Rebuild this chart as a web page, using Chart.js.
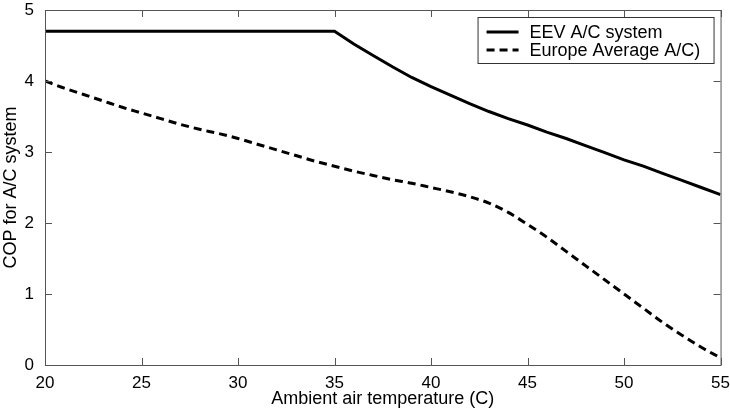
<!DOCTYPE html>
<html>
<head>
<meta charset="utf-8">
<script src="https://cdn.jsdelivr.net/npm/chart.js@4/dist/chart.umd.min.js"></script>
<style>
  html, body { margin: 0; padding: 0; background: #fff; }
  #wrap { width: 730px; height: 415px; }
</style>
</head>
<body>
<div id="wrap"><canvas id="myChart" width="730" height="415"></canvas></div>
<script>
// ambient temperature (C)
var temps = [20,21,22,23,24,25,26,27,28,29,30,31,32,33,34,35,36,37,38,39,40,
             41,42,43,44,45,46,47,48,49,50,51,52,53,54,55];
var eev_cop = [4.7,4.7,4.7,4.7,4.7,4.7,4.7,4.7,4.7,4.7,4.7,4.7,4.7,4.7,4.7,4.7,
               4.52,4.36,4.2,4.05,3.92,3.8,3.68,3.57,3.47,3.38,3.28,3.19,3.09,2.99,
               2.89,2.8,2.7,2.6,2.5,2.4];
var europe_cop = [4.0,3.9,3.81,3.72,3.63,3.55,3.47,3.39,3.32,3.26,3.19,3.11,3.03,2.95,2.87,
                  2.8,2.73,2.67,2.61,2.56,2.5,2.44,2.37,2.28,2.15,1.98,1.8,1.6,1.4,1.2,
                  1.0,0.8,0.6,0.42,0.25,0.1];
var xTicks = [20,25,30,35,40,45,50,55];
var yTicks = [0,1,2,3,4,5];

var FONT = "'Liberation Sans', Arial, sans-serif";

function pts(ys) {
  return temps.map(function(t, i){ return {x: t, y: ys[i]}; });
}

// box + inward ticks (matlab style)
var framePlugin = {
  id: 'frame',
  afterDatasetsDraw: function(chart) {
    var ctx = chart.ctx, a = chart.chartArea;
    var xs = chart.scales.x, ys = chart.scales.y;
    ctx.save();
    ctx.strokeStyle = '#555';
    ctx.lineWidth = 1;
    ctx.strokeRect(a.left + 0.5, a.top + 0.5, a.right - a.left, a.bottom - a.top);
    ctx.beginPath();
    xTicks.forEach(function(v){
      var px = Math.round(xs.getPixelForValue(v)) + 0.5;
      ctx.moveTo(px, a.bottom); ctx.lineTo(px, a.bottom - 7);
      ctx.moveTo(px, a.top); ctx.lineTo(px, a.top + 7);
    });
    yTicks.forEach(function(v){
      var py = Math.round(ys.getPixelForValue(v)) + 0.5;
      ctx.moveTo(a.left, py); ctx.lineTo(a.left + 7, py);
      ctx.moveTo(a.right, py); ctx.lineTo(a.right - 7, py);
    });
    ctx.stroke();
    ctx.restore();
  }
};

// legend inside the top right corner
var boxLegend = {
  id: 'boxLegend',
  afterDraw: function(chart) {
    var ctx = chart.ctx, a = chart.chartArea;
    var x0 = a.right - 243, y0 = a.top + 7, w = 236, h = 46;
    ctx.save();
    ctx.fillStyle = '#fff';
    ctx.fillRect(x0, y0, w, h);
    ctx.strokeStyle = '#333';
    ctx.lineWidth = 1;
    ctx.strokeRect(x0 + 0.5, y0 + 0.5, w, h);
    ctx.font = '18px ' + FONT;
    ctx.textBaseline = 'middle';
    chart.data.datasets.forEach(function(ds, i){
      var ly = y0 + 15 + i * 18;
      ctx.strokeStyle = '#000';
      ctx.lineWidth = 3;
      ctx.setLineDash(ds.borderDash || []);
      ctx.beginPath();
      ctx.moveTo(x0 + 9, ly); ctx.lineTo(x0 + 41, ly);
      ctx.stroke();
      ctx.setLineDash([]);
      ctx.fillStyle = '#000';
      ctx.fillText(ds.label, x0 + 52, ly + 1);
    });
    ctx.restore();
  }
};

var ctx = document.getElementById('myChart');
var chart = new Chart(ctx, {
  type: 'line',
  data: {
    datasets: [{
      label: 'EEV A/C system',
      data: pts(eev_cop),
      borderColor: '#000',
      borderWidth: 3,
      pointRadius: 0,
      tension: 0,
      fill: false
    }, {
      label: 'Europe Average A/C)',
      data: pts(europe_cop),
      borderColor: '#000',
      borderWidth: 3,
      borderDash: [8, 5],
      pointRadius: 0,
      cubicInterpolationMode: 'monotone',
      fill: false
    }]
  },
  options: {
    responsive: false,
    animation: false,
    layout: { padding: { left: 0, right: 6, top: 10, bottom: 0 } },
    plugins: {
      legend: { display: false },
      tooltip: { enabled: false }
    },
    scales: {
      x: {
        type: 'linear',
        min: 20, max: 55,
        afterBuildTicks: function(s){ s.ticks = xTicks.map(function(v){ return {value: v}; }); },
        afterFit: function(s){ s.height = 50; },
        grid: { display: false },
        border: { display: false },
        ticks: { color: '#000', font: { family: FONT, size: 17 }, padding: 0, maxRotation: 0 },
        title: { display: true, text: 'Ambient air temperature (C)', color: '#000',
                 font: { family: FONT, size: 18 }, padding: { top: 0, bottom: 5 } }
      },
      y: {
        min: 0, max: 5,
        afterBuildTicks: function(s){ s.ticks = yTicks.map(function(v){ return {value: v}; }); },
        afterFit: function(s){ s.width = 45; s.paddingTop = 0; },
        grid: { display: false },
        border: { display: false },
        ticks: { color: '#000', font: { family: FONT, size: 17 }, padding: 3 },
        title: { display: true, text: 'COP for A/C system', color: '#000',
                 font: { family: FONT, size: 18 }, padding: { top: 0, bottom: 0 } }
      }
    }
  },
  plugins: [framePlugin, boxLegend]
});
</script>
</body>
</html>
